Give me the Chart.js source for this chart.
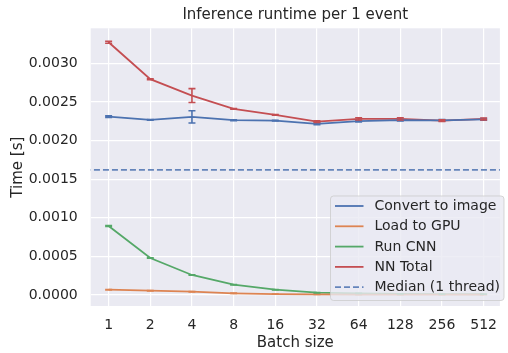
<!DOCTYPE html>
<html>
<head>
<meta charset="utf-8">
<script src="https://cdn.jsdelivr.net/npm/chart.js@4.4.1/dist/chart.umd.min.js"></script>
<style>
  html, body { margin: 0; padding: 0; background: #ffffff; }
  #wrap { width: 508px; height: 353px; position: relative; }
</style>
</head>
<body>
<div id="wrap"><canvas id="c" width="508" height="353"></canvas></div>
<script>
const chartTitle = 'Inference runtime per 1 event';
const batchSizes = ["1", "2", "4", "8", "16", "32", "64", "128", "256", "512"];
const convertToImage = [0.00231, 0.002267, 0.002306, 0.002263, 0.002258, 0.002215, 0.00225, 0.002263, 0.002262, 0.002274];
const convertErr =     [0.00001, 0.000005, 0.00008, 0.000005, 0.000005, 0.00001, 0.00001, 0.00001, 0.000008, 0.00001];
const loadToGPU = [0.000069, 0.000056, 0.000043, 0.000022, 0.000012, 0.000008, 0.000006, 0.000005, 0.000005, 0.000005];
const loadErr =   [0.000003, 0.000002, 0.000002, 0.000002, 0.000001, 0.000001, 0.000001, 0.000001, 0.000001, 0.000001];
const runCNN = [0.000894, 0.000479, 0.000259, 0.000133, 0.000069, 0.00003, 0.00002, 0.000015, 0.000012, 0.00001];
const cnnErr = [0.000006, 0.000004, 0.000004, 0.000003, 0.000002, 0.000002, 0.000001, 0.000001, 0.000001, 0.000001];
const nnTotal = [0.003273, 0.002794, 0.002582, 0.002409, 0.002332, 0.002245, 0.00228, 0.00228, 0.002258, 0.00228];
const nnErr =   [0.000013, 0.000005, 0.00009, 0.000005, 0.000005, 0.00001, 0.000015, 0.000015, 0.00001, 0.000012];
const median1Thread = 0.001619;
const yTicks = [0.0000, 0.0005, 0.0010, 0.0015, 0.0020, 0.0025, 0.0030];

const toPts = arr => arr.map((v, i) => ({x: i, y: v}));

const errorBars = {
  id: 'errorBars',
  afterDatasetsDraw(chart) {
    const ctx = chart.ctx;
    const xs = chart.scales.x, ys = chart.scales.y;
    ctx.save();
    chart.data.datasets.forEach(ds => {
      if (!ds.errors) return;
      ctx.strokeStyle = ds.borderColor;
      ctx.lineWidth = 1.6;
      ds.data.forEach((p, i) => {
        const e = ds.errors[i];
        const x = xs.getPixelForValue(p.x);
        const y1 = ys.getPixelForValue(p.y - e);
        const y2 = ys.getPixelForValue(p.y + e);
        ctx.beginPath();
        ctx.moveTo(x, y1); ctx.lineTo(x, y2);
        ctx.moveTo(x - 3.5, y1); ctx.lineTo(x + 3.5, y1);
        ctx.moveTo(x - 3.5, y2); ctx.lineTo(x + 3.5, y2);
        ctx.stroke();
      });
    });
    ctx.restore();
  }
};

const bgPlugin = {
  id: 'plotBg',
  beforeDraw(chart) {
    const {ctx, chartArea: a} = chart;
    ctx.save();
    ctx.fillStyle = '#eaeaf2';
    ctx.fillRect(a.left, a.top, a.right - a.left, a.bottom - a.top);
    ctx.restore();
  }
};

const titlePlugin = {
  id: 'axesTitle',
  afterDraw(chart) {
    const {ctx, chartArea: a} = chart;
    ctx.save();
    ctx.font = '15px "DejaVu Sans"';
    ctx.fillStyle = '#262626';
    ctx.textAlign = 'center';
    ctx.textBaseline = 'middle';
    ctx.fillText(chartTitle, (a.left + a.right) / 2, 15);
    ctx.restore();
  }
};

const legendPlugin = {
  id: 'innerLegend',
  afterDraw(chart) {
    const ctx = chart.ctx;
    const x0 = 330, y0 = 195.5, w = 173.5, h = 104.5, r = 3;
    ctx.save();
    ctx.beginPath();
    ctx.roundRect(x0 + 0.5, y0 + 0.5, w, h, r);
    ctx.fillStyle = 'rgba(234,234,242,0.8)';
    ctx.fill();
    ctx.strokeStyle = 'rgba(204,204,204,0.8)';
    ctx.lineWidth = 1;
    ctx.stroke();
    ctx.font = '14px "DejaVu Sans"';
    ctx.textBaseline = 'middle';
    ctx.textAlign = 'left';
    chart.data.datasets.forEach((ds, i) => {
      const y = 206 + i * 20.3;
      ctx.beginPath();
      ctx.strokeStyle = ds.borderColor;
      ctx.lineWidth = 1.8;
      ctx.setLineDash(ds.borderDash || []);
      ctx.moveTo(335, y); ctx.lineTo(363.5, y);
      ctx.stroke();
      ctx.setLineDash([]);
      ctx.fillStyle = '#262626';
      ctx.fillText(ds.label, 374.5, y + 0.5);
    });
    ctx.restore();
  }
};

const mk = (label, data, err, color) => ({
  label, data: toPts(data), errors: err,
  borderColor: color, backgroundColor: color,
  borderWidth: 1.8, pointRadius: 0, tension: 0, fill: false
});

new Chart(document.getElementById('c'), {
  type: 'line',
  data: {
    datasets: [
      mk('Convert to image', convertToImage, convertErr, '#4c72b0'),
      mk('Load to GPU', loadToGPU, loadErr, '#dd8452'),
      mk('Run CNN', runCNN, cnnErr, '#55a868'),
      mk('NN Total', nnTotal, nnErr, '#c44e52'),
      {
        label: 'Median (1 thread)',
        data: [{x: -1, y: median1Thread}, {x: 10, y: median1Thread}],
        borderColor: 'rgba(76,114,176,0.85)', backgroundColor: 'rgba(76,114,176,0.85)',
        borderWidth: 1.8, borderDash: [6, 3], pointRadius: 0, fill: false
      }
    ]
  },
  options: {
    responsive: false,
    animation: false,
    devicePixelRatio: 1,
    layout: { padding: { left: 0, right: 0, top: 28.3, bottom: 0 } },
    plugins: {
      legend: { display: false },
      tooltip: { enabled: false },
      title: { display: false }
    },
    scales: {
      x: {
        type: 'linear',
        min: -0.43, max: 9.39,
        afterFit(s) { s.height = 47; },
        afterBuildTicks(s) { s.ticks = batchSizes.map((_, i) => ({value: i})); },
        grid: { color: '#ffffff', lineWidth: 1.2, drawTicks: false },
        border: { display: false },
        ticks: {
          color: '#262626', padding: 11, maxRotation: 0, autoSkip: false,
          font: { family: 'DejaVu Sans', size: 14 },
          callback: (v) => batchSizes[v]
        },
        title: {
          display: true, text: 'Batch size', color: '#262626',
          font: { family: 'DejaVu Sans', size: 15 },
          padding: { top: 0, bottom: 1 }
        }
      },
      y: {
        min: -0.0001424, max: 0.003453,
        afterFit(s) { s.width = 90.7; },
        afterBuildTicks(s) { s.ticks = yTicks.map(v => ({value: v})); },
        grid: { color: '#ffffff', lineWidth: 1.2, drawTicks: false },
        border: { display: false },
        ticks: {
          color: '#262626', padding: 13,
          font: { family: 'DejaVu Sans', size: 14 },
          callback: (v) => v.toFixed(4)
        },
        title: {
          display: true, text: 'Time [s]', color: '#262626',
          font: { family: 'DejaVu Sans', size: 15 },
          padding: { top: 9, bottom: 0 }
        }
      }
    }
  },
  plugins: [bgPlugin, errorBars, titlePlugin, legendPlugin]
});
</script>
</body>
</html>
